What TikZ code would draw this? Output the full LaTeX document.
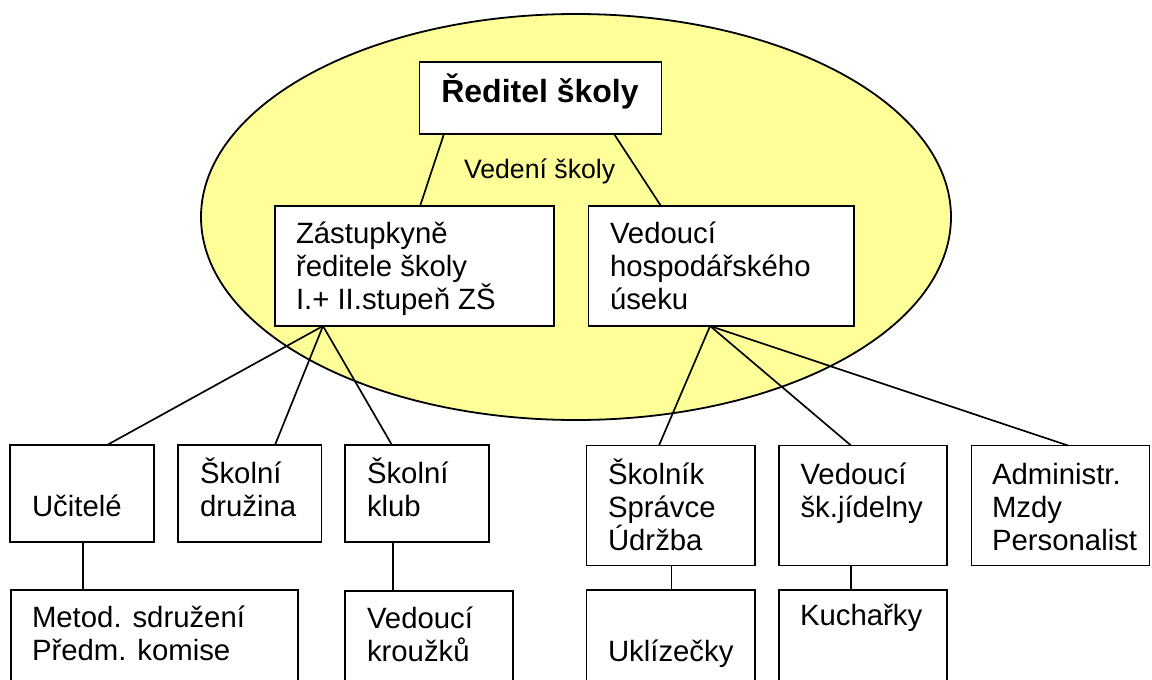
\documentclass[tikz,border=0pt]{standalone}
\usepackage{fontspec}
\setmainfont{Liberation Sans}
\usetikzlibrary{calc}
\newdimen\px \px=0.75pt
\definecolor{ovalfill}{RGB}{255,255,153}
\tikzset{
  orgbox/.style={draw=black, line width=1.35pt, fill=white, inner sep=0pt, outer sep=0pt, anchor=north west},
  txt/.style={anchor=base west, inner sep=0pt, outer sep=0pt, font=\fontsize{22}{25}\selectfont},
  link/.style={draw=black, line width=1.25pt},
}
\newcommand\orgbx[5]{\node[orgbox, minimum width=#4\px, minimum height=#5\px] (#1) at (#2,#3) {};}
\newcommand\ml[1]{\vtop{\baselineskip=25pt\halign{##\hfil\cr#1\crcr}}}
\begin{document}
\begin{tikzpicture}[x=0.75pt,y=-0.75pt]
\useasboundingbox (0,0) rectangle (1152,679);
\clip (0,0) rectangle (1152,679);
% background oval
\draw[line width=1.35pt, fill=ovalfill] (576,217) ellipse [x radius=375, y radius=203];
% boxes
\orgbx{director}{419.5}{62}{242}{72}
\orgbx{zast}{275}{206}{279}{120}
\orgbx{hosp}{588.5}{206}{265.5}{120}
\orgbx{ucitele}{10}{445}{144}{97}
\orgbx{druzina}{178}{445}{143.5}{97}
\orgbx{klub}{345}{445}{144}{97}
\orgbx{skolnik}{586.5}{445.5}{168.5}{120}
\orgbx{jidelna}{779}{445.5}{168}{120}
\orgbx{admin}{971.5}{445.5}{178}{120}
\orgbx{metod}{11}{590}{287}{120}
\orgbx{krouzky}{345}{591}{168}{120}
\orgbx{uklizecky}{586.5}{590}{168.5}{120}
\orgbx{kucharky}{779}{590}{168}{120}
% connectors
\draw[link] ($(director.south west)!0.101!(director.south east)$) -- ($(zast.north west)!0.52!(zast.north east)$);
\draw[link] ($(director.south west)!0.804!(director.south east)$) -- ($(hosp.north west)!0.273!(hosp.north east)$);
\draw[link] ($(zast.south west)!0.172!(zast.south east)$) coordinate (zb) -- ($(ucitele.north west)!0.674!(ucitele.north east)$);
\draw[link] (zb) -- ($(druzina.north west)!0.676!(druzina.north east)$);
\draw[link] (zb) -- ($(klub.north west)!0.326!(klub.north east)$);
\draw[link] ($(hosp.south west)!0.458!(hosp.south east)$) coordinate (hb) -- ($(skolnik.north west)!0.43!(skolnik.north east)$);
\draw[link] (hb) -- ($(jidelna.north west)!0.4286!(jidelna.north east)$);
\draw[link] (hb) -- ($(admin.north west)!0.542!(admin.north east)$);
\draw[link] ($(ucitele.south west)!0.507!(ucitele.south east)$) coordinate (ub) -- (ub |- metod.north);
\draw[link] ($(klub.south west)!0.333!(klub.south east)$) coordinate (kb) -- (kb |- krouzky.north);
\draw[link] ($(skolnik.south west)!0.504!(skolnik.south east)$) coordinate (sb) -- (sb |- uklizecky.north);
\draw[link] ($(jidelna.south west)!0.43!(jidelna.south east)$) coordinate (jb) -- (jb |- kucharky.north);
% texts
\node[anchor=base, inner sep=0pt, font=\fontsize{24}{28}\selectfont\bfseries] (tdirector) at (540,102) {Ředitel školy};
\node[txt, font=\fontsize{20}{24}\selectfont] (tvedeni) at (464,178) {Vedení školy};
\node[txt] (tzast) at (296,243.3) {\ml{Zástupkyně\cr ředitele školy\cr I.+ II.stupeň ZŠ}};
\node[txt] (thosp) at (610,243.3) {\ml{Vedoucí\cr hospodářského\cr úseku}};
\node[txt] (tucitele) at (32,516.7) {Učitelé};
\node[txt] (tdruzina) at (200,483) {\ml{Školní\cr družina}};
\node[txt] (tklub) at (367,483) {\ml{Školní\cr klub}};
\node[txt] (tmetod) at (32,627) {\ml{Metod. sdružení\cr Předm. komise}};
\node[txt] (tkrouzky) at (367,628) {\ml{Vedoucí\cr kroužků}};
\node[txt] (tskolnik) at (608,484) {\ml{Školník\cr Správce\cr Údržba}};
\node[txt] (tjidelna) at (800.5,484) {\ml{Vedoucí\cr šk.jídelny}};
\node[txt] (tadmin) at (992,484) {\ml{Administr.\cr Mzdy\cr Personalist}};
\node[txt] (tukliz) at (608,661.7) {Uklízečky};
\node[txt] (tkuch) at (800,625) {Kuchařky};
\end{tikzpicture}
\end{document}
